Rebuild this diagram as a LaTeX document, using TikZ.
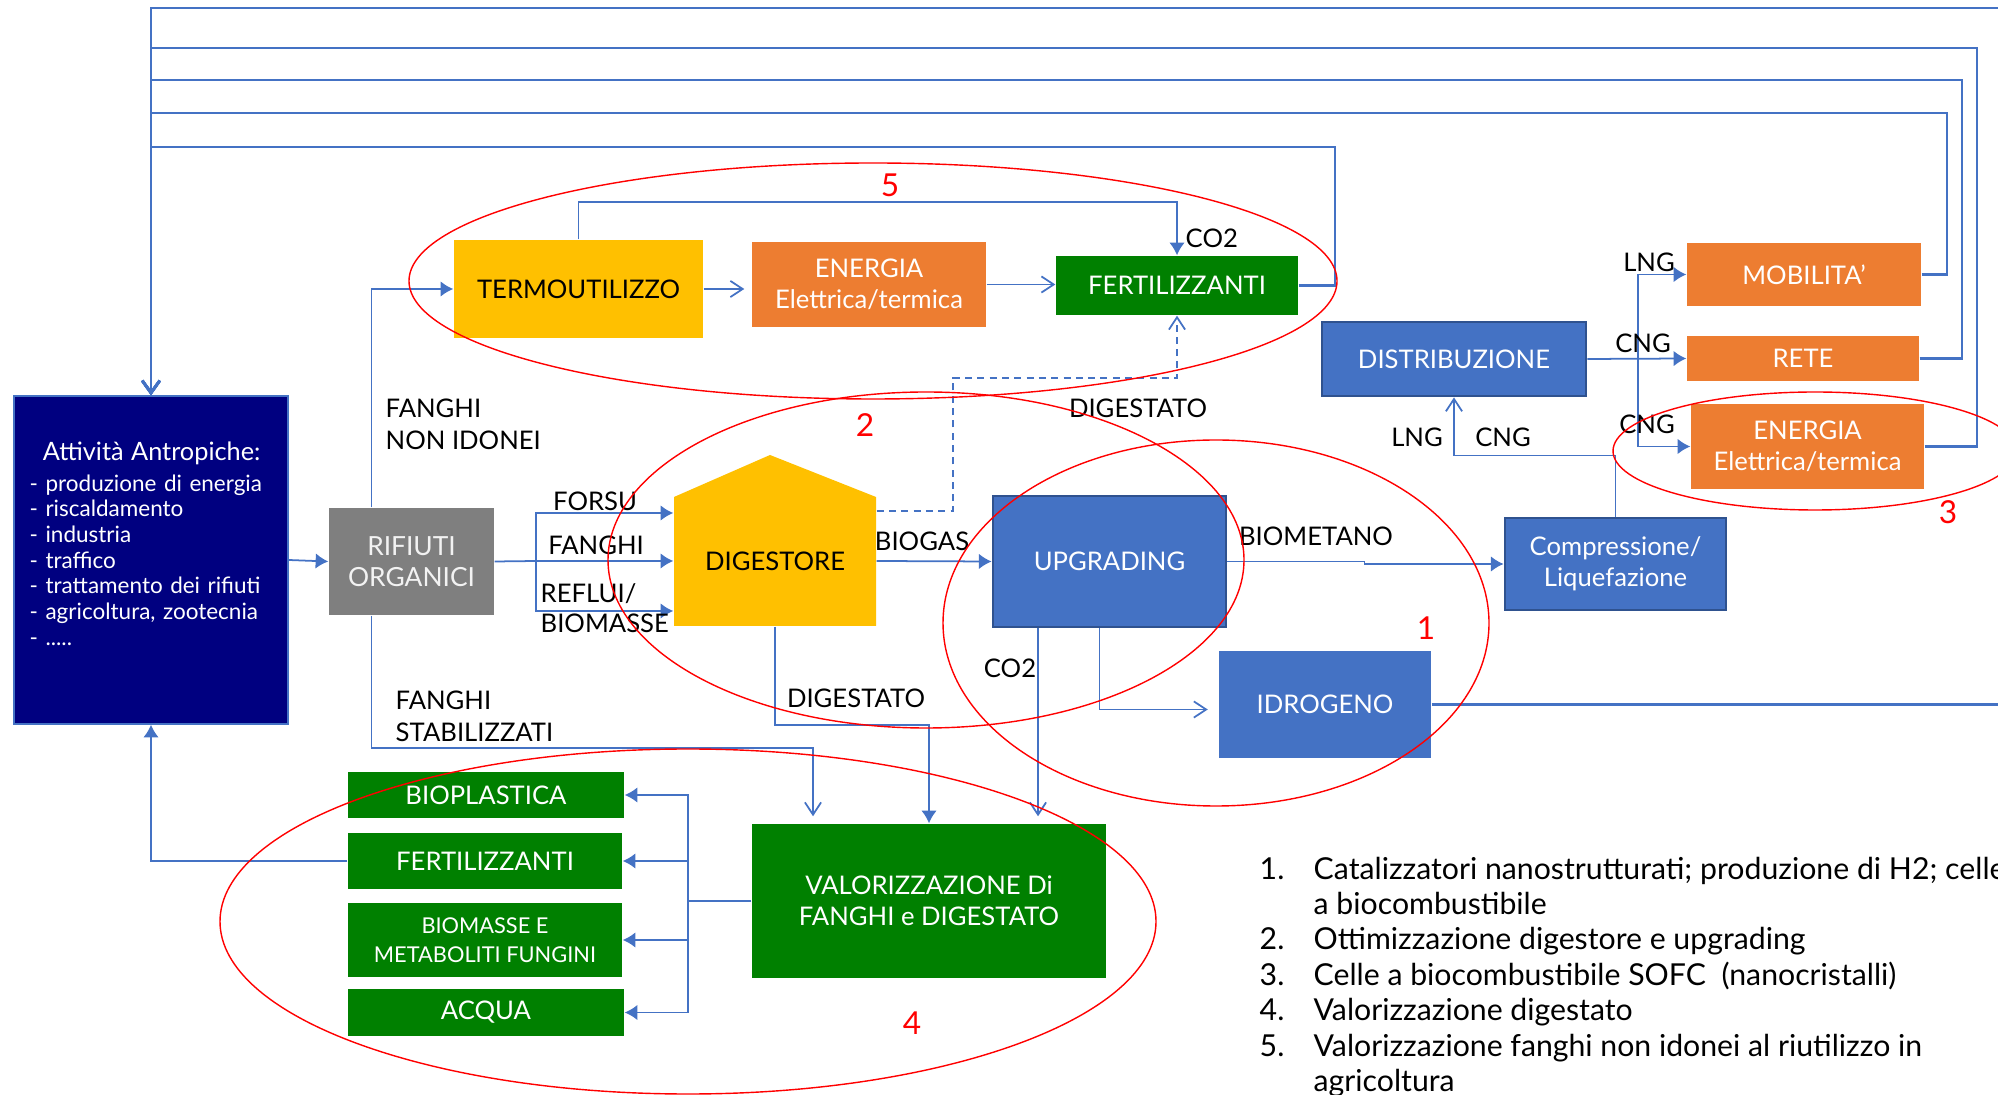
\documentclass[tikz,border=0pt]{standalone}
\usepackage{fontspec}
\setmainfont{Lato}
\usetikzlibrary{shapes,arrows.meta}
\usepackage{xcolor}
\definecolor{navy}{HTML}{000080}
\definecolor{grigio}{HTML}{7F7F7F}
\definecolor{giallo}{HTML}{FFC000}
\definecolor{arancio}{HTML}{ED7D31}
\definecolor{verde}{HTML}{008000}
\definecolor{blu}{HTML}{4472C4}
\definecolor{blubordo}{HTML}{2F528F}

\begin{document}
\begin{tikzpicture}[
        box/.style={inner sep=0pt,align=center,font=\fontsize{7.3}{8.8}\selectfont},
        lbl/.style={inner sep=0pt,align=left,font=\fontsize{7.3}{9}\selectfont},
        num/.style={inner sep=0pt,text=red,font=\fontsize{9}{11}\selectfont},
        zone/.style={draw=red,line width=0.4pt},
        flow/.style={draw=blu,line width=0.5pt,-{Latex[length=3.6pt,width=4.4pt]}},
        oflow/.style={draw=blu,line width=0.5pt,-{Straight Barb[length=3.5pt,width=4.6pt]}},
        ritorno/.style={draw=blu,line width=0.8pt,-{Straight Barb[length=3.5pt,width=5pt]}}]
        \useasboundingbox (0,0) rectangle (19.98,10.94);
        % attivita' e rifiuti
        \node[box,fill=navy,draw=blu,minimum width=2.74cm,minimum height=3.28cm] (att) at (1.51,5.34) {};
        \node[anchor=north west,inner sep=0pt,text width=2.5cm,align=left,text=white,font=\fontsize{6.4}{7.3}\selectfont] (atttxt) at (0.29,6.53)
        {{\fontsize{7.2}{9}\selectfont\makebox[2.44cm]{Attività Antropiche:}\par}\vspace{1.5pt}
        - produzione di energia\\- riscaldamento\\- industria\\- traffico\\- trattamento dei rifiuti\\- agricoltura, zootecnia\\- .....};
        \node[box,fill=grigio,text=white!95!black,font=\fontsize{7.5}{9}\selectfont,minimum width=1.65cm,minimum height=1.07cm] (rif) at (4.115,5.325) {RIFIUTI\\ORGANICI};
        % gruppo 5
        \node[box,fill=giallo,minimum width=2.49cm,minimum height=0.98cm] (termo) at (5.785,8.05) {TERMOUTILIZZO};
        \node[box,fill=arancio,text=white,minimum width=2.34cm,minimum height=0.85cm] (en1) at (8.69,8.095) {ENERGIA\\Elettrica/termica};
        \node[box,fill=verde,text=white,minimum width=2.42cm,minimum height=0.59cm] (fert1) at (11.77,8.085) {FERTILIZZANTI};
        % digestore e upgrading
        \fill[giallo] (6.74,4.68) -- (6.74,5.97) -- (7.70,6.39) -- (8.76,5.97) -- (8.76,4.68) -- cycle;
        \node[box,minimum width=2.02cm,minimum height=1.30cm] (dig) at (7.75,5.33) {DIGESTORE};
        \node[box,fill=blu,draw=blubordo,line width=0.8pt,text=white,minimum width=2.33cm,minimum height=1.31cm] (upg) at (11.095,5.325) {UPGRADING};
        \node[box,fill=blu,text=white,minimum width=2.12cm,minimum height=1.07cm] (idro) at (13.25,3.895) {IDROGENO};
        \node[box,fill=blu,draw=blubordo,line width=0.8pt,text=white,minimum width=2.21cm,minimum height=0.92cm] (comp) at (16.155,5.30) {Compressione/\\Liquefazione};
        \node[box,fill=blu,draw=blubordo,line width=0.8pt,text=white,minimum width=2.64cm,minimum height=0.74cm] (distr) at (14.54,7.35) {DISTRIBUZIONE};
        \node[box,fill=arancio,text=white,minimum width=2.34cm,minimum height=0.63cm] (mob) at (18.04,8.195) {MOBILITA’};
        \node[box,fill=arancio,text=white,minimum width=2.32cm,minimum height=0.45cm] (rete) at (18.03,7.355) {RETE};
        \node[box,fill=arancio,text=white,minimum width=2.33cm,minimum height=0.85cm] (en2) at (18.075,6.475) {ENERGIA\\Elettrica/termica};
        % valorizzazione
        \node[box,fill=verde,text=white,minimum width=3.54cm,minimum height=1.54cm] (valor) at (9.29,1.93) {VALORIZZAZIONE Di\\FANGHI e DIGESTATO};
        \node[box,fill=verde,text=white,minimum width=2.76cm,minimum height=0.46cm] (biopl) at (4.86,2.99) {BIOPLASTICA};
        \node[box,fill=verde,text=white,minimum width=2.74cm,minimum height=0.56cm] (fert2) at (4.85,2.33) {FERTILIZZANTI};
        \node[box,fill=verde,text=white,minimum width=2.74cm,minimum height=0.74cm,font=\fontsize{6.2}{8.2}\selectfont] (biom) at (4.85,1.54) {BIOMASSE E\\METABOLITI FUNGINI};
        \node[box,fill=verde,text=white,minimum width=2.76cm,minimum height=0.47cm] (acqua) at (4.86,0.815) {ACQUA};

        % connessioni
        \draw[flow] (att.east) -- (rif.west);
        \draw[flow] ([xshift=-4mm]rif.north) |- (termo.west);
        \draw[oflow,shorten >=2pt] (termo.east) -- (termo.east -| en1.west);
        \draw[oflow] (en1.east) -- (en1.east -| fert1.west);
        \draw[flow] (termo.north) -- ++(0,0.37) -| (fert1.north);
        \coordinate (dsh) at (9.53,7.16);
        \draw[oflow,dash pattern=on 2pt off 1.5pt] ([yshift=5mm]dig.east) -| (dsh) -| (fert1.south);
        \coordinate (split) at (5.36,5.33);
        \draw[draw=blu,line width=0.5pt] (rif.east) -- (split);
        \draw[flow] (split) |- ([yshift=4.8mm]dig.west);
        \draw[flow] (split) -- (dig.west);
        \draw[flow] (split) |- ([yshift=-5mm]dig.west);
        \draw[flow] (dig.east) -- (upg.west);
        \draw[flow] (upg.east) -- ++(1.37,0) |- (comp.west);
        \draw[oflow,shorten >=3pt] ([xshift=-1mm]upg.south) |- ([yshift=-0.5mm]idro.west);
        \coordinate (co2a) at ([xshift=-7.15mm]upg.south);
        \draw[oflow,shorten >=2pt] (co2a) -- (co2a |- valor.north);
        \coordinate (dg) at (9.29,3.69);
        \draw[flow] (dig.south) |- (dg) -- (valor.north);
        \coordinate (fs) at (8.13,3.46);
        \draw[oflow,shorten >=2pt] ([xshift=-4mm]rif.south) |- (fs) -- (fs |- valor.north);
        \coordinate (vs) at (6.88,1.93);
        \draw[draw=blu,line width=0.5pt] (valor.west) -- (vs);
        \draw[flow] (vs) |- (biopl.east);
        \draw[flow] (vs) |- (fert2.east);
        \draw[flow] (vs) |- (biom.east);
        \draw[flow] (vs) |- (acqua.east);
        \draw[flow] (fert2.west) -| (att.south);
        \draw[oflow] (comp.north) -- ++(0,0.61) -| (distr.south);
        \draw[flow] (distr.east) -- (rete.west);
        \coordinate (br) at (16.38,7.35);
        \draw[flow] (br) |- (mob.west);
        \draw[flow] (br) |- (en2.west);
        % ritorni verso le attivita'
        \draw[ritorno] (fert1.east) -| (13.35,9.47) -| (att.north);
        \draw[ritorno] (mob.east) -| (19.47,9.81) -| (att.north);
        \draw[ritorno] (rete.east) -| (19.62,10.14) -| (att.north);
        \draw[ritorno] (en2.east) -| (19.77,10.46) -| (att.north);
        \draw[ritorno] (idro.east) -| (20.1,10.86) -| (att.north);

        % etichette
        \node[lbl,anchor=west] (lnonid) at (3.85,6.70) {FANGHI\\NON IDONEI};
        \node[lbl,anchor=west] (lstab) at (3.95,3.78) {FANGHI\\STABILIZZATI};
        \node[lbl] (lforsu) at (5.95,5.93) {FORSU};
        \node[lbl] (lfanghi) at (5.96,5.49) {FANGHI};
        \node[lbl,anchor=west] (lreflui) at (5.40,5.00) {REFLUI/};
        \node[lbl,anchor=west] (lbiom) at (5.40,4.71) {BIOMASSE};
        \node[lbl] (lbiogas) at (9.22,5.53) {BIOGAS};
        \node[lbl] (lbiomet) at (13.16,5.58) {BIOMETANO};
        \node[lbl] (lcodue) at (10.10,4.26) {CO2};
        \node[lbl] (ldig) at (8.56,3.96) {DIGESTATO};
        \node[lbl] (ldigsu) at (11.38,6.86) {DIGESTATO};
        \node[lbl,anchor=west] (lcodsu) at (11.85,8.56) {CO2};
        \node[lbl] (llng) at (14.17,6.57) {LNG};
        \node[lbl] (lcng) at (15.03,6.57) {CNG};
        \node[lbl] (llngb) at (16.49,8.32) {LNG};
        \node[lbl] (lcngb) at (16.43,7.51) {CNG};
        \node[lbl] (lcngc) at (16.47,6.70) {CNG};

        % zone di ricerca
        \draw[zone] (8.73,8.13) ellipse (4.64 and 1.18);
        \draw[zone] (9.26,5.34) ellipse (3.18 and 1.68);
        \draw[zone] (12.16,4.71) ellipse (2.73 and 1.83);
        \draw[zone] (18.15,6.43) ellipse (2.02 and 0.59);
        \draw[zone] (6.88,1.725) ellipse (4.68 and 1.725);
        \node[num] (n1) at (14.26,4.66) {1};
        \node[num] (n2) at (8.65,6.69) {2};
        \node[num] (n3) at (19.48,5.82) {3};
        \node[num] (n4) at (9.12,0.71) {4};
        \node[num] (n5) at (8.90,9.09) {5};

        % legenda
        \node[anchor=base west,inner sep=0pt,font=\fontsize{8.6}{10.1}\selectfont] (legenda) at (12.59,2.15)
        {\begin{tabular}[t]{@{}p{5.4mm}@{}l@{}}
        1. & Catalizzatori nanostrutturati; produzione di H2; celle\\
           & a biocombustibile\\
        2. & Ottimizzazione digestore e upgrading\\
        3. & Celle a biocombustibile SOFC\ \ (nanocristalli)\\
        4. & Valorizzazione digestato\\
        5. & Valorizzazione fanghi non idonei al riutilizzo in\\
           & agricoltura
        \end{tabular}};
\end{tikzpicture}
\end{document}
